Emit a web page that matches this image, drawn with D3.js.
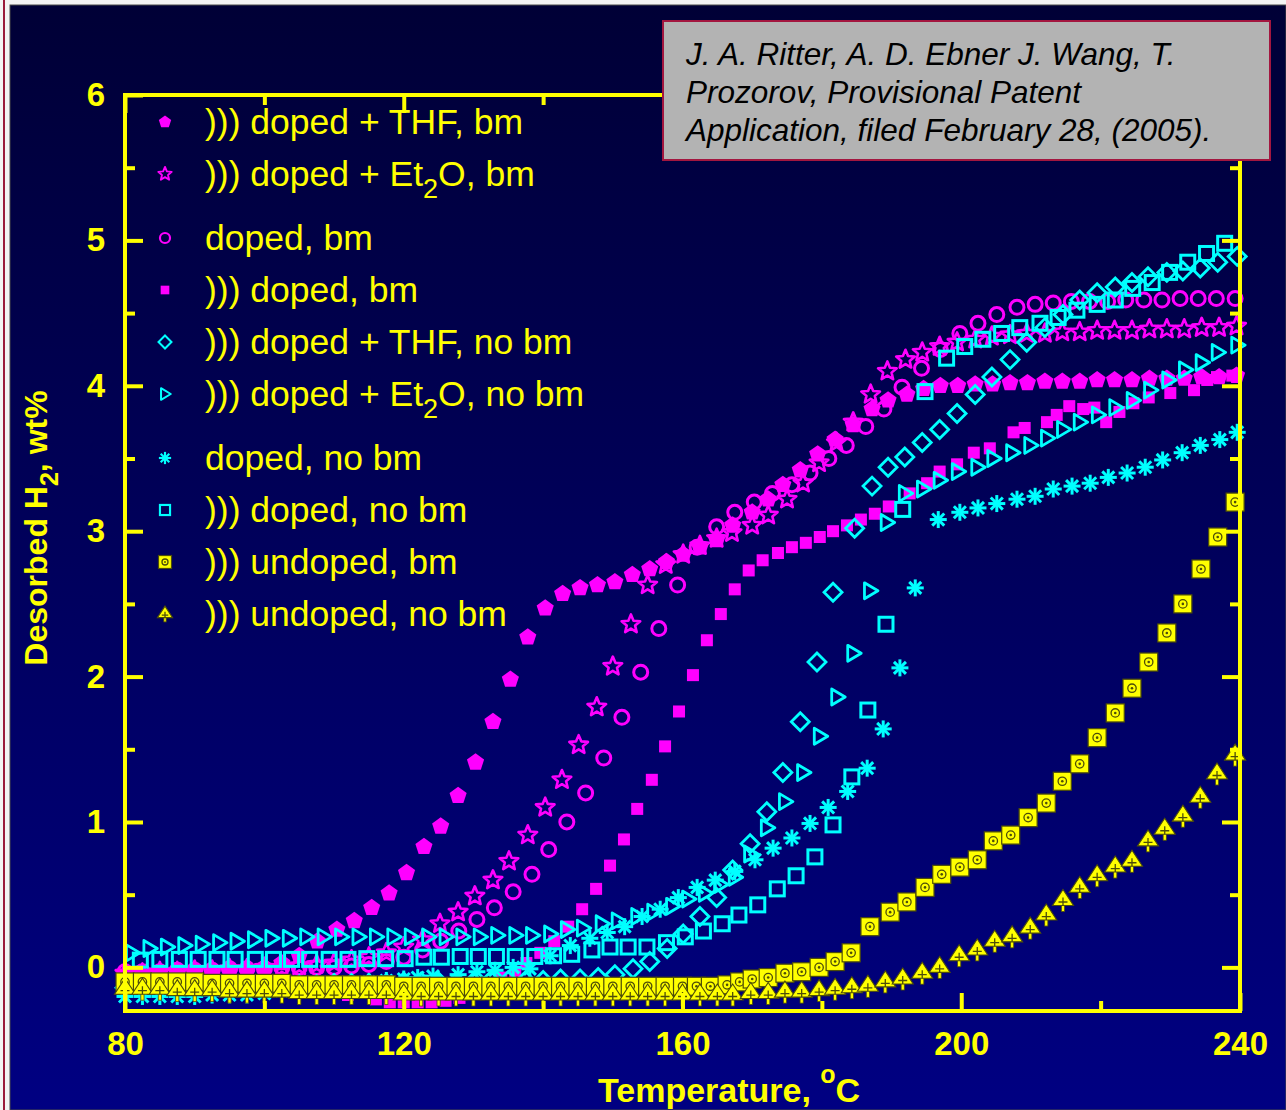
<!DOCTYPE html>
<html>
<head>
<meta charset="utf-8">
<script src="https://cdn.jsdelivr.net/npm/d3@7"></script>
<style>
  html, body { margin: 0; padding: 0; background: #f4f4f4; }
  svg { display: block; }
</style>
</head>
<body>
<svg id="chart" width="1286" height="1110"></svg>
<script>
// ---------- axis ticks ----------
const xTicksMajor = [80, 120, 160, 200, 240];
const xTicksMinor = [100, 140, 180, 220];
const yTicksMajor = [0, 1, 2, 3, 4, 5, 6];
const yTicksMinor = [0.5, 1.5, 2.5, 3.5, 4.5, 5.5];

// ---------- text ----------
const xTitle = ["Temperature, ", "o", "C"];
const yTitle = "Desorbed H_2, wt%";
const citation = [
  "J. A. Ritter, A. D. Ebner J. Wang, T.",
  "Prozorov, Provisional Patent",
  "Application, filed February 28, (2005)."
];
const legendLabels = [
  "))) doped + THF, bm",
  "))) doped + Et_2O, bm",
  "doped, bm",
  "))) doped, bm",
  "))) doped + THF, no bm",
  "))) doped + Et_2O, no bm",
  "doped, no bm",
  "))) doped, no bm",
  "))) undoped, bm",
  "))) undoped, no bm"
];

// ---------- series: [temperature (°C), desorbed H2 (wt%)] ----------
const thfBm = [[80,-0.06],[82.5,-0.06],[85,-0.05],[87.5,-0.05],[90,-0.04],[92.5,-0.04],[95,-0.03],[97.5,-0.02],[100,0.0],[102.5,0.03],[105,0.08],[107.6,0.18],[110.4,0.26],[112.9,0.32],[115.4,0.41],[117.9,0.51],[120.4,0.65],[122.9,0.83],[125.3,0.97],[127.8,1.18],[130.3,1.41],[132.8,1.69],[135.3,1.98],[137.8,2.27],[140.3,2.47],[142.8,2.57],[145.3,2.61],[147.8,2.63],[150.3,2.65],[152.8,2.70],[155.3,2.74],[157.7,2.79],[160.1,2.84],[162.5,2.89],[164.9,2.94],[167.2,3.04],[170,3.13],[172.3,3.22],[174.4,3.32],[176.9,3.42],[179.4,3.53],[181.9,3.63],[184.5,3.73],[187.2,3.84],[189.5,3.90],[192.2,3.94],[194.6,3.98],[197,4.00],[199.5,4.00],[202,4.01],[204.5,4.01],[207,4.02],[209.5,4.02],[212,4.03],[214.5,4.03],[217,4.03],[219.5,4.04],[222,4.04],[224.5,4.04],[227,4.05],[229.5,4.05],[232,4.05],[234.5,4.06],[237,4.06],[239.5,4.07]];

const et2oBm = [[80,-0.04],[82.5,-0.04],[85,-0.03],[87.5,-0.03],[90,-0.02],[92.5,-0.02],[95,-0.01],[97.5,-0.01],[100,0],[102.5,0],[105,0.01],[107.5,0.02],[110,0.03],[112.5,0.05],[115,0.07],[117.5,0.10],[120,0.14],[122.7,0.19],[125.2,0.30],[127.8,0.38],[130.2,0.49],[132.8,0.60],[135.1,0.73],[137.8,0.91],[140.3,1.10],[142.7,1.29],[145.1,1.53],[147.7,1.79],[150,2.07],[152.6,2.36],[155,2.63],[157.6,2.77],[160.1,2.84],[162.5,2.90],[164.9,2.95],[167.1,2.99],[170,3.04],[172.3,3.11],[175,3.22],[177.3,3.33],[179.6,3.47],[182.1,3.61],[184.5,3.75],[187,3.94],[189.4,4.10],[192,4.18],[194.4,4.23],[196.9,4.27],[199.4,4.30],[202,4.32],[204.4,4.34],[207,4.35],[209.4,4.36],[212,4.36],[214.5,4.37],[217,4.37],[219.5,4.38],[222,4.38],[224.5,4.38],[227,4.39],[229.5,4.39],[232,4.39],[234.5,4.40],[237,4.40],[239.5,4.41]];

const dopedBm = [[80,-0.03],[82.5,-0.03],[85,-0.03],[87.5,-0.02],[90,-0.02],[92.5,-0.02],[95,-0.01],[97.5,-0.01],[100,-0.01],[102.5,0],[105,0],[107.5,0],[110,0],[112.5,0.01],[115,0.02],[117.5,0.04],[120,0.07],[122.7,0.12],[125.3,0.18],[127.9,0.25],[130.5,0.33],[133,0.41],[135.7,0.52],[138.4,0.64],[140.8,0.81],[143.4,1.00],[146.1,1.20],[148.7,1.44],[151.3,1.72],[154,2.03],[156.6,2.33],[159.3,2.63],[162.1,2.89],[164.9,3.03],[167.5,3.13],[170.3,3.20],[172.9,3.26],[175.7,3.32],[178.3,3.40],[181,3.50],[183.5,3.59],[186.3,3.72],[188.9,3.84],[191.5,3.99],[194.3,4.12],[197,4.25],[199.8,4.36],[202.4,4.43],[205.1,4.49],[208,4.54],[210.6,4.56],[213.2,4.57],[215.8,4.58],[218.4,4.58],[221,4.58],[223.6,4.59],[226.2,4.59],[228.8,4.59],[231.4,4.60],[234,4.60],[236.6,4.60],[239.3,4.60]];

const soniDopedBm = [[80,-0.14],[84,-0.14],[88,-0.14],[92,-0.14],[96,-0.15],[100,-0.15],[104,-0.16],[108,-0.17],[112,-0.19],[116,-0.22],[118,-0.24],[120,-0.24],[122,-0.24],[124,-0.24],[126,-0.23],[128,-0.21],[130,-0.17],[132,-0.12],[134,-0.07],[136,-0.03],[137.6,0.03],[139.6,0.10],[141.6,0.18],[143.6,0.28],[145.6,0.40],[147.6,0.54],[149.6,0.70],[151.6,0.88],[153.5,1.09],[155.6,1.29],[157.5,1.52],[159.5,1.76],[161.5,2.01],[163.5,2.25],[165.5,2.43],[167.5,2.60],[169.5,2.73],[171.5,2.80],[173.7,2.85],[175.7,2.89],[177.7,2.92],[179.7,2.96],[181.6,3.00],[183.6,3.04],[185.6,3.08],[187.6,3.12],[189.6,3.17],[192.6,3.26],[195.1,3.33],[196.9,3.41],[199.4,3.46],[201.8,3.54],[204.1,3.57],[207.5,3.68],[209.1,3.71],[212.3,3.75],[213.7,3.80],[215.5,3.86],[217.5,3.84],[219.1,3.85],[220.8,3.75],[222.7,3.82],[224.7,3.88],[226.9,3.92],[230,3.95],[233.4,3.97],[235.3,4.04],[236.7,4.06],[238.9,4.07]];

const thfNoBm = [[80,-0.14],[82.5,-0.14],[85,-0.14],[87.5,-0.14],[90,-0.13],[92.5,-0.13],[95,-0.13],[97.5,-0.13],[100,-0.12],[102.5,-0.12],[105,-0.12],[107.5,-0.12],[110,-0.11],[112.5,-0.11],[115,-0.11],[117.5,-0.11],[120,-0.10],[122.5,-0.10],[125,-0.10],[127.5,-0.10],[130,-0.10],[132.5,-0.09],[135,-0.09],[137.5,-0.09],[140,-0.09],[142.5,-0.08],[145.3,-0.08],[147.9,-0.07],[150.3,-0.05],[152.9,-0.01],[155.3,0.04],[157.8,0.13],[160.1,0.23],[162.5,0.35],[164.9,0.48],[167.2,0.67],[169.7,0.85],[172.1,1.07],[174.4,1.34],[176.9,1.69],[179.3,2.10],[181.6,2.58],[184.7,3.02],[187.2,3.31],[189.5,3.44],[191.9,3.51],[194.4,3.61],[196.9,3.70],[199.4,3.81],[202,3.94],[204.4,4.06],[207,4.18],[209.4,4.30],[212,4.40],[214.6,4.49],[217,4.59],[219.5,4.64],[222.1,4.68],[224.5,4.71],[226.8,4.75],[229.5,4.78],[231.8,4.79],[234.3,4.81],[236.8,4.85],[239.6,4.89]];

const et2oNoBm = [[81,0.10],[83.5,0.13],[86,0.14],[88.5,0.15],[91,0.16],[93.5,0.17],[96,0.18],[98.5,0.19],[101,0.20],[103.5,0.20],[106,0.21],[108.5,0.21],[111,0.21],[113.5,0.21],[116,0.21],[118.5,0.21],[121,0.21],[123.5,0.21],[126,0.21],[128.4,0.21],[130.9,0.21],[133.4,0.22],[136,0.22],[138.4,0.22],[141,0.23],[143.4,0.26],[145.7,0.27],[148.4,0.30],[150.7,0.32],[153.5,0.35],[155.8,0.38],[158.5,0.42],[160.8,0.47],[163.2,0.51],[165.4,0.57],[167.5,0.62],[169.7,0.78],[172.1,0.96],[174.7,1.14],[177.3,1.34],[179.7,1.59],[182.2,1.86],[184.5,2.16],[186.9,2.59],[189.3,3.06],[191.9,3.26],[194.5,3.29],[196.9,3.35],[199.5,3.41],[202.3,3.44],[204.6,3.50],[207.3,3.54],[209.9,3.59],[212.3,3.64],[214.6,3.70],[217,3.75],[219.6,3.80],[222.1,3.85],[224.6,3.90],[227.1,3.97],[229.7,4.04],[232.1,4.11],[234.5,4.16],[236.8,4.23],[239.6,4.28]];

const dopedNoBm = [[80,-0.20],[82.5,-0.20],[85,-0.20],[87.5,-0.20],[90,-0.20],[92.5,-0.19],[95,-0.19],[97.5,-0.19],[100,-0.18],[102.5,-0.16],[105,-0.14],[107.5,-0.13],[110,-0.12],[112.5,-0.11],[115,-0.10],[117.5,-0.09],[120,-0.08],[122,-0.07],[124.2,-0.06],[127.8,-0.05],[130.5,-0.03],[133.1,-0.02],[135.7,0.0],[138.1,-0.01],[141,0.08],[143.9,0.15],[146.7,0.20],[149.2,0.24],[151.7,0.28],[154.2,0.35],[156.8,0.40],[159.4,0.48],[162.1,0.55],[164.7,0.60],[167.5,0.66],[170.4,0.74],[173,0.82],[175.7,0.89],[178.3,0.99],[180.9,1.10],[183.7,1.21],[186.5,1.37],[188.8,1.64],[191.2,2.06],[193.4,2.61],[196.7,3.08],[199.8,3.13],[202.4,3.16],[205.1,3.19],[208,3.22],[210.6,3.24],[213.2,3.29],[215.9,3.31],[218.5,3.33],[221.1,3.37],[223.8,3.40],[226.4,3.44],[228.9,3.49],[231.7,3.54],[234.3,3.59],[237.1,3.63],[239.6,3.68]];

const soniDopedNoBm = [[82.2,0.05],[85,0.055],[87.8,0.055],[90.5,0.055],[93.2,0.055],[95.8,0.055],[98.7,0.055],[101.3,0.055],[103.9,0.055],[106.5,0.055],[109.3,0.055],[112,0.055],[114.7,0.06],[117.4,0.06],[120.2,0.06],[122.9,0.07],[125.4,0.07],[128.1,0.075],[130.7,0.075],[133.3,0.075],[136,0.075],[138.8,0.075],[141.5,0.08],[144.1,0.09],[147,0.12],[149.6,0.14],[152.2,0.14],[154.9,0.14],[157.7,0.17],[160.4,0.21],[163,0.25],[165.7,0.30],[168.1,0.36],[170.8,0.43],[173.6,0.54],[176.3,0.63],[179,0.76],[181.6,0.98],[184.3,1.31],[186.6,1.77],[189.2,2.36],[191.6,3.15],[194.8,3.96],[197.9,4.19],[200.5,4.27],[203.1,4.32],[205.8,4.36],[208.4,4.40],[211.3,4.43],[213.9,4.47],[216.6,4.52],[219.5,4.56],[222.1,4.59],[224.6,4.67],[227.4,4.71],[229.9,4.78],[232.5,4.85],[235.2,4.91],[237.8,4.98]];

const undopedBm = [[80,-0.10],[82.5,-0.10],[85,-0.10],[87.5,-0.10],[90,-0.10],[92.5,-0.11],[95,-0.11],[97.5,-0.11],[100,-0.11],[102.5,-0.11],[105,-0.12],[107.5,-0.12],[110,-0.12],[112.5,-0.12],[115,-0.12],[117.5,-0.12],[120,-0.13],[122.5,-0.13],[125,-0.13],[127.5,-0.13],[130,-0.13],[132.5,-0.13],[135,-0.13],[137.5,-0.13],[140,-0.13],[142.5,-0.13],[145,-0.13],[147.5,-0.13],[150,-0.13],[152.5,-0.13],[155,-0.13],[157.5,-0.13],[160,-0.13],[162,-0.13],[164,-0.13],[166.4,-0.12],[168.2,-0.10],[170,-0.08],[172.3,-0.07],[174.7,-0.04],[177.1,-0.03],[179.6,0.0],[181.9,0.04],[184.2,0.10],[186.9,0.28],[189.8,0.38],[192.2,0.45],[194.8,0.55],[197.2,0.64],[199.8,0.69],[202.3,0.74],[204.6,0.87],[207.1,0.91],[209.6,1.03],[212.2,1.13],[214.5,1.28],[217,1.40],[219.5,1.58],[222.1,1.75],[224.5,1.92],[226.9,2.10],[229.5,2.30],[231.8,2.50],[234.4,2.74],[236.8,2.96],[239.3,3.20]];

const undopedNoBm = [[80,-0.15],[82.5,-0.15],[85,-0.15],[87.5,-0.16],[90,-0.16],[92.5,-0.16],[95,-0.17],[97.5,-0.17],[100,-0.17],[102.5,-0.17],[105,-0.18],[107.5,-0.18],[110,-0.18],[112.5,-0.18],[115,-0.18],[117.5,-0.18],[120,-0.19],[122.5,-0.19],[125,-0.19],[127.5,-0.19],[130,-0.19],[132.5,-0.19],[135,-0.19],[137.5,-0.19],[140,-0.19],[142.5,-0.19],[145,-0.19],[147.5,-0.19],[150,-0.19],[152.5,-0.19],[155,-0.19],[157.5,-0.19],[160,-0.19],[162.5,-0.19],[165,-0.19],[167.2,-0.19],[169.8,-0.18],[172.3,-0.18],[174.7,-0.17],[177.1,-0.17],[179.6,-0.16],[181.9,-0.15],[184.3,-0.14],[186.6,-0.13],[189.1,-0.10],[191.6,-0.08],[194.4,-0.04],[196.9,0.0],[199.7,0.08],[202.3,0.12],[204.8,0.18],[207.3,0.21],[209.9,0.27],[212.2,0.36],[214.6,0.46],[217,0.55],[219.5,0.63],[222.1,0.69],[224.5,0.73],[226.8,0.87],[229.2,0.95],[231.8,1.04],[234.3,1.17],[236.7,1.33],[239.3,1.46]];

// ---------- styling ----------
const MAGENTA = "#ff00ff", CYAN = "#00ffff", YELLOW = "#ffff00";
const FONT = "'Liberation Sans', Arial, Helvetica, sans-serif";

const series = [
  { data: thfBm,         color: MAGENTA, shape: "pentagon" },
  { data: et2oBm,        color: MAGENTA, shape: "star" },
  { data: dopedBm,       color: MAGENTA, shape: "circle" },
  { data: soniDopedBm,   color: MAGENTA, shape: "fsquare" },
  { data: thfNoBm,       color: CYAN,    shape: "diamond" },
  { data: et2oNoBm,      color: CYAN,    shape: "triangle" },
  { data: dopedNoBm,     color: CYAN,    shape: "asterisk" },
  { data: soniDopedNoBm, color: CYAN,    shape: "osquare" },
  { data: undopedBm,     color: YELLOW,  shape: "ysquare" },
  { data: undopedNoBm,   color: YELLOW,  shape: "ytriangle" }
];
series.forEach((s, i) => s.label = legendLabels[i]);

const W = 1286, H = 1110;
const svg = d3.select("#chart");

const x = d3.scaleLinear().domain([80, 240]).range([125, 1240]);
const y = d3.scaleLinear().domain([-0.3, 6]).range([1011, 95]);

// ---------- slide background ----------
const defs = svg.append("defs");
const grad = defs.append("linearGradient").attr("id", "bg")
  .attr("x1", 0).attr("y1", 0).attr("x2", 0).attr("y2", 1);
grad.append("stop").attr("offset", "0%").attr("stop-color", "#000036");
grad.append("stop").attr("offset", "100%").attr("stop-color", "#000082");

svg.append("rect").attr("width", W).attr("height", H).attr("fill", "#f4f4f4");
svg.append("rect").attr("x", 10).attr("y", 5).attr("width", W - 10).attr("height", H - 5)
  .attr("fill", "url(#bg)").attr("stroke", "#4a4a4a").attr("stroke-width", 1);
svg.append("line").attr("x1", 4).attr("x2", 4).attr("y1", 0).attr("y2", H)
  .attr("stroke", "#9b1b3b").attr("stroke-width", 2);

// ---------- marker shapes ----------
function polygonPath(n, r, rot) {
  const pts = d3.range(n).map(k => {
    const a = (rot + 360 * k / n) * Math.PI / 180;
    return [r * Math.cos(a), r * Math.sin(a)];
  });
  return "M" + pts.map(p => p.join(",")).join("L") + "Z";
}
function starPath(ro, ri) {
  const pts = d3.range(10).map(k => {
    const r = k % 2 ? ri : ro;
    const a = (-90 + 36 * k) * Math.PI / 180;
    return [r * Math.cos(a), r * Math.sin(a)];
  });
  return "M" + pts.map(p => p.join(",")).join("L") + "Z";
}

const DARK = "#4d4d08";
function drawMarker(g, shape, color, s) {
  switch (shape) {
    case "pentagon":
      g.append("path").attr("d", polygonPath(5, 9 * s, -90)).attr("fill", color);
      break;
    case "star":
      g.append("path").attr("d", starPath(9.8 * s, 4.4 * s)).attr("fill", "none")
        .attr("stroke", color).attr("stroke-width", 2.6 * s).attr("stroke-linejoin", "round");
      break;
    case "circle":
      g.append("circle").attr("r", 7 * s).attr("fill", "none")
        .attr("stroke", color).attr("stroke-width", 3 * s);
      break;
    case "fsquare":
      g.append("rect").attr("x", -6 * s).attr("y", -6 * s).attr("width", 12 * s).attr("height", 12 * s)
        .attr("fill", color);
      break;
    case "diamond":
      g.append("path").attr("d", polygonPath(4, 9 * s, -90)).attr("fill", "none")
        .attr("stroke", color).attr("stroke-width", 2.8 * s);
      break;
    case "triangle":
      g.append("path").attr("d", `M${-5.5 * s},${-8 * s}L${8 * s},0L${-5.5 * s},${8 * s}Z`)
        .attr("fill", "none").attr("stroke", color).attr("stroke-width", 2.8 * s)
        .attr("stroke-linejoin", "round");
      break;
    case "asterisk": {
      const r = 8.5 * s;
      [0, 45, 90, 135].forEach(a => {
        const t = a * Math.PI / 180;
        g.append("line")
          .attr("x1", -r * Math.cos(t)).attr("y1", -r * Math.sin(t))
          .attr("x2", r * Math.cos(t)).attr("y2", r * Math.sin(t))
          .attr("stroke", color).attr("stroke-width", 3 * s);
      });
      break;
    }
    case "osquare":
      g.append("rect").attr("x", -7 * s).attr("y", -7 * s).attr("width", 14 * s).attr("height", 14 * s)
        .attr("fill", "none").attr("stroke", color).attr("stroke-width", 3 * s);
      break;
    case "ysquare":
      g.append("rect").attr("x", -9 * s).attr("y", -9 * s).attr("width", 18 * s).attr("height", 18 * s)
        .attr("fill", color).attr("stroke", DARK).attr("stroke-width", 1.2);
      g.append("circle").attr("r", 4.2 * s).attr("fill", "none")
        .attr("stroke", DARK).attr("stroke-width", 1.3);
      g.append("circle").attr("r", 1.3 * s).attr("fill", DARK);
      break;
    case "ytriangle":
      g.append("rect").attr("x", -1.6 * s).attr("y", 3 * s).attr("width", 3.2 * s).attr("height", 8 * s)
        .attr("fill", color).attr("stroke", DARK).attr("stroke-width", 0.8);
      g.append("path").attr("d", `M0,${-11 * s}L${10.5 * s},${5 * s}L${-10.5 * s},${5 * s}Z`)
        .attr("fill", color).attr("stroke", DARK).attr("stroke-width", 1.1);
      g.append("path").attr("d", `M0,${-3 * s}V${5 * s}M${-4.5 * s},${1.5 * s}H${4.5 * s}`)
        .attr("stroke", DARK).attr("stroke-width", 1.3);
      break;
  }
}

// ---------- data markers ----------
const plot = svg.append("g").attr("class", "marks");
series.forEach(s => {
  const gs = plot.append("g").attr("class", "series");
  gs.selectAll("g.pt").data(s.data).join("g").attr("class", "pt")
    .attr("transform", d => `translate(${x(d[0])},${y(d[1])})`)
    .each(function () { drawMarker(d3.select(this), s.shape, s.color, 1); });
});

// ---------- frame & axes ----------
const axisColor = YELLOW;
function styleAxis(g, fontSize) {
  g.attr("color", axisColor).attr("font-family", FONT);
  g.select(".domain").remove();
  g.selectAll(".tick line").attr("stroke-width", 4);
  g.selectAll(".tick text").attr("font-size", fontSize).attr("font-weight", "bold");
}

// bottom
svg.append("g").attr("transform", `translate(0,${y.range()[0]})`)
  .call(d3.axisBottom(x).tickValues(xTicksMajor).tickSize(-18).tickPadding(32).tickFormat(d3.format("d")))
  .call(g => styleAxis(g, 33))
  .call(g => g.selectAll(".tick text").attr("dy", "0.35em"));
svg.append("g").attr("transform", `translate(0,${y.range()[0]})`)
  .call(d3.axisBottom(x).tickValues(xTicksMinor).tickSize(-10).tickFormat(""))
  .call(g => styleAxis(g, 0));
// top
svg.append("g").attr("transform", `translate(0,${y.range()[1]})`)
  .call(d3.axisTop(x).tickValues(xTicksMajor).tickSize(-18).tickFormat(""))
  .call(g => styleAxis(g, 0));
svg.append("g").attr("transform", `translate(0,${y.range()[1]})`)
  .call(d3.axisTop(x).tickValues(xTicksMinor).tickSize(-10).tickFormat(""))
  .call(g => styleAxis(g, 0));
// left
svg.append("g").attr("transform", `translate(${x.range()[0]},0)`)
  .call(d3.axisLeft(y).tickValues(yTicksMajor).tickSize(-18).tickPadding(20).tickFormat(d3.format("d")))
  .call(g => styleAxis(g, 33));
svg.append("g").attr("transform", `translate(${x.range()[0]},0)`)
  .call(d3.axisLeft(y).tickValues(yTicksMinor).tickSize(-10).tickFormat(""))
  .call(g => styleAxis(g, 0));
// right
svg.append("g").attr("transform", `translate(${x.range()[1]},0)`)
  .call(d3.axisRight(y).tickValues(yTicksMajor).tickSize(-18).tickFormat(""))
  .call(g => styleAxis(g, 0));
svg.append("g").attr("transform", `translate(${x.range()[1]},0)`)
  .call(d3.axisRight(y).tickValues(yTicksMinor).tickSize(-10).tickFormat(""))
  .call(g => styleAxis(g, 0));

svg.append("rect")
  .attr("x", x.range()[0]).attr("y", y.range()[1])
  .attr("width", x.range()[1] - x.range()[0]).attr("height", y.range()[0] - y.range()[1])
  .attr("fill", "none").attr("stroke", axisColor).attr("stroke-width", 4);

// ---------- rich text helper (handles _n subscripts) ----------
function richText(sel, str, subSize, shift) {
  const parts = str.split(/_(\d)/);
  let pending = 0;
  parts.forEach((p, i) => {
    if (!p) return;
    const t = sel.append("tspan").text(p);
    if (i % 2 === 1) {
      t.attr("dy", shift + pending).attr("font-size", subSize);
      pending = -shift;
    } else if (pending) {
      t.attr("dy", pending);
      pending = 0;
    }
  });
}

// ---------- axis titles ----------
const xt = svg.append("text")
  .attr("x", 598).attr("y", 1102)
  .attr("fill", YELLOW).attr("font-family", FONT).attr("font-size", 34).attr("font-weight", "bold");
xt.append("tspan").text(xTitle[0]);
xt.append("tspan").attr("dy", -19).attr("font-size", 25).text(xTitle[1]);
xt.append("tspan").attr("dy", 19).text(xTitle[2]);

const yt = svg.append("text")
  .attr("transform", "translate(47,528) rotate(-90)")
  .attr("text-anchor", "middle")
  .attr("fill", YELLOW).attr("font-family", FONT).attr("font-size", 32).attr("font-weight", "bold");
richText(yt, yTitle, 25, 11);

// ---------- legend ----------
const legend = svg.append("g").attr("transform", "translate(165,122)");
let rowY = 0;
series.forEach((s, i) => {
  const row = legend.append("g").attr("transform", `translate(0,${rowY})`);
  drawMarker(row.append("g"), s.shape, s.color, 0.72);
  const t = row.append("text").attr("x", 40).attr("y", 12)
    .attr("fill", YELLOW).attr("font-family", FONT).attr("font-size", 35.5);
  richText(t, s.label, 27, 12);
  rowY += s.label.includes("_") ? 64 : 52;
});

// ---------- citation box ----------
const box = svg.append("g");
box.append("rect").attr("x", 663).attr("y", 21).attr("width", 607).attr("height", 139)
  .attr("fill", "#b3b3b3").attr("stroke", "#a3163f").attr("stroke-width", 2);
box.selectAll("text").data(citation).join("text")
  .attr("x", 686).attr("y", (d, i) => 65 + i * 38)
  .attr("fill", "#000").attr("font-family", FONT).attr("font-size", 31.5).attr("font-style", "italic")
  .text(d => d);
</script>
</body>
</html>
